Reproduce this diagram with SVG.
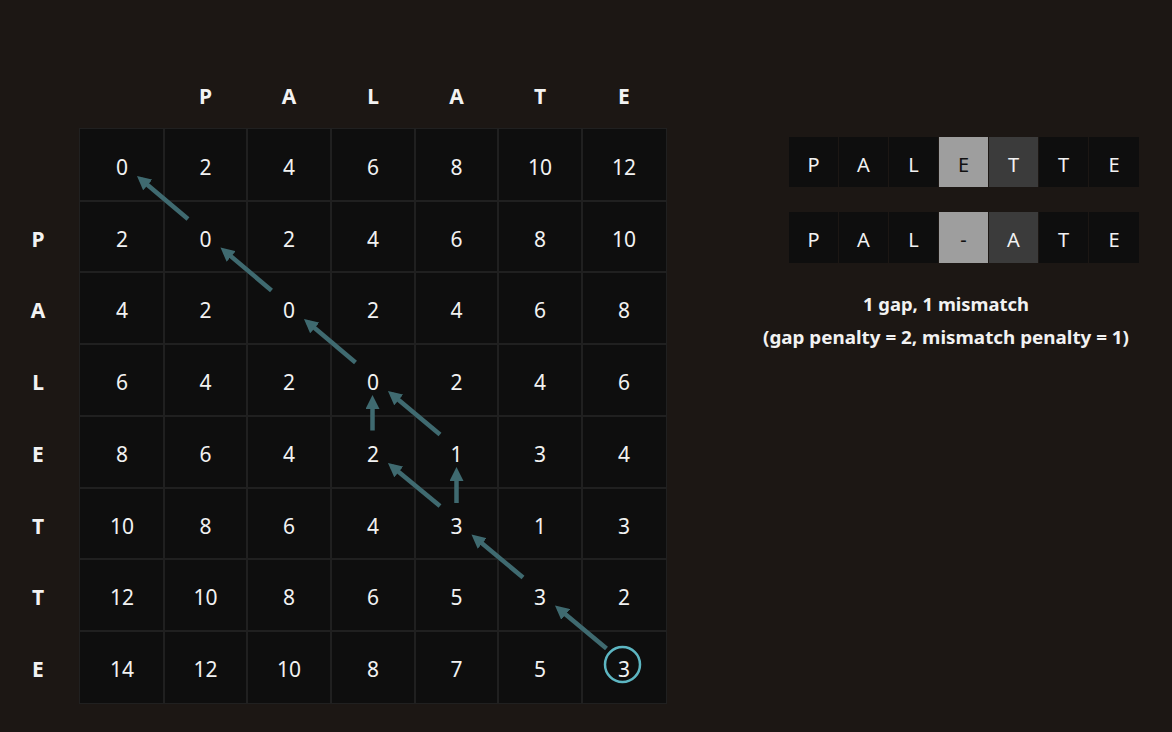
<svg xmlns="http://www.w3.org/2000/svg" width="1172" height="732" viewBox="0 0 1172 732">
<defs>
<style>
.bg{fill:#1c1714}
.grid{fill:#202020}
.cell{fill:#0e0e0e}
.num{font-family:"Noto Sans","Open Sans",sans-serif;font-size:21px;fill:#f2f2f2;text-anchor:middle}
.hdr{font-family:"Noto Sans","Open Sans",sans-serif;font-size:21px;font-weight:bold;fill:#f2f2f2;text-anchor:middle}
.al{font-family:"Noto Sans","Open Sans",sans-serif;font-size:20px;fill:#f2f2f2;text-anchor:middle}
.dk{fill:#111}
.note{font-family:"Noto Sans","Open Sans",sans-serif;font-size:18px;font-weight:bold;fill:#f2f2f2;text-anchor:middle}
.arr{stroke:#3f6a70;stroke-width:4.5;fill:none;marker-end:url(#ah)}
</style>
<marker id="ah" markerUnits="userSpaceOnUse" markerWidth="14" markerHeight="14" viewBox="0 0 14 14" refX="9" refY="7" orient="auto">
<path d="M0,0 L14,7 L0,14 z" fill="#3f6a70"/>
</marker>
</defs>
<rect class="bg" x="0" y="0" width="1172" height="732"/>

<g id="headers">
<text class="hdr" x="205.5" y="104">P</text>
<text class="hdr" x="289" y="104">A</text>
<text class="hdr" x="373" y="104">L</text>
<text class="hdr" x="456.5" y="104">A</text>
<text class="hdr" x="540" y="104">T</text>
<text class="hdr" x="624" y="104">E</text>
<text class="hdr" x="38" y="246.5">P</text>
<text class="hdr" x="38" y="318">A</text>
<text class="hdr" x="38" y="390">L</text>
<text class="hdr" x="38" y="462">E</text>
<text class="hdr" x="38" y="533.5">T</text>
<text class="hdr" x="38" y="605">T</text>
<text class="hdr" x="38" y="677">E</text>
</g>

<g id="matrix">
<rect class="grid" x="79" y="128" width="588" height="576"/>
<g id="cells">
<rect class="cell" x="80" y="129" width="83" height="71"/><rect class="cell" x="165" y="129" width="81" height="71"/><rect class="cell" x="248" y="129" width="82" height="71"/><rect class="cell" x="332" y="129" width="82" height="71"/><rect class="cell" x="416" y="129" width="81" height="71"/><rect class="cell" x="499" y="129" width="82" height="71"/><rect class="cell" x="583" y="129" width="83" height="71"/>
<rect class="cell" x="80" y="202" width="83" height="69"/><rect class="cell" x="165" y="202" width="81" height="69"/><rect class="cell" x="248" y="202" width="82" height="69"/><rect class="cell" x="332" y="202" width="82" height="69"/><rect class="cell" x="416" y="202" width="81" height="69"/><rect class="cell" x="499" y="202" width="82" height="69"/><rect class="cell" x="583" y="202" width="83" height="69"/>
<rect class="cell" x="80" y="273" width="83" height="70"/><rect class="cell" x="165" y="273" width="81" height="70"/><rect class="cell" x="248" y="273" width="82" height="70"/><rect class="cell" x="332" y="273" width="82" height="70"/><rect class="cell" x="416" y="273" width="81" height="70"/><rect class="cell" x="499" y="273" width="82" height="70"/><rect class="cell" x="583" y="273" width="83" height="70"/>
<rect class="cell" x="80" y="345" width="83" height="70"/><rect class="cell" x="165" y="345" width="81" height="70"/><rect class="cell" x="248" y="345" width="82" height="70"/><rect class="cell" x="332" y="345" width="82" height="70"/><rect class="cell" x="416" y="345" width="81" height="70"/><rect class="cell" x="499" y="345" width="82" height="70"/><rect class="cell" x="583" y="345" width="83" height="70"/>
<rect class="cell" x="80" y="417" width="83" height="70"/><rect class="cell" x="165" y="417" width="81" height="70"/><rect class="cell" x="248" y="417" width="82" height="70"/><rect class="cell" x="332" y="417" width="82" height="70"/><rect class="cell" x="416" y="417" width="81" height="70"/><rect class="cell" x="499" y="417" width="82" height="70"/><rect class="cell" x="583" y="417" width="83" height="70"/>
<rect class="cell" x="80" y="489" width="83" height="69"/><rect class="cell" x="165" y="489" width="81" height="69"/><rect class="cell" x="248" y="489" width="82" height="69"/><rect class="cell" x="332" y="489" width="82" height="69"/><rect class="cell" x="416" y="489" width="81" height="69"/><rect class="cell" x="499" y="489" width="82" height="69"/><rect class="cell" x="583" y="489" width="83" height="69"/>
<rect class="cell" x="80" y="560" width="83" height="70"/><rect class="cell" x="165" y="560" width="81" height="70"/><rect class="cell" x="248" y="560" width="82" height="70"/><rect class="cell" x="332" y="560" width="82" height="70"/><rect class="cell" x="416" y="560" width="81" height="70"/><rect class="cell" x="499" y="560" width="82" height="70"/><rect class="cell" x="583" y="560" width="83" height="70"/>
<rect class="cell" x="80" y="632" width="83" height="71"/><rect class="cell" x="165" y="632" width="81" height="71"/><rect class="cell" x="248" y="632" width="82" height="71"/><rect class="cell" x="332" y="632" width="82" height="71"/><rect class="cell" x="416" y="632" width="81" height="71"/><rect class="cell" x="499" y="632" width="82" height="71"/><rect class="cell" x="583" y="632" width="83" height="71"/>
</g>
<g id="values">
<text class="num" x="122" y="175">0</text><text class="num" x="205.5" y="175">2</text><text class="num" x="289" y="175">4</text><text class="num" x="373" y="175">6</text><text class="num" x="456.5" y="175">8</text><text class="num" x="540" y="175">10</text><text class="num" x="624" y="175">12</text>
<text class="num" x="122" y="246.5">2</text><text class="num" x="205.5" y="246.5">0</text><text class="num" x="289" y="246.5">2</text><text class="num" x="373" y="246.5">4</text><text class="num" x="456.5" y="246.5">6</text><text class="num" x="540" y="246.5">8</text><text class="num" x="624" y="246.5">10</text>
<text class="num" x="122" y="318">4</text><text class="num" x="205.5" y="318">2</text><text class="num" x="289" y="318">0</text><text class="num" x="373" y="318">2</text><text class="num" x="456.5" y="318">4</text><text class="num" x="540" y="318">6</text><text class="num" x="624" y="318">8</text>
<text class="num" x="122" y="390">6</text><text class="num" x="205.5" y="390">4</text><text class="num" x="289" y="390">2</text><text class="num" x="373" y="390">0</text><text class="num" x="456.5" y="390">2</text><text class="num" x="540" y="390">4</text><text class="num" x="624" y="390">6</text>
<text class="num" x="122" y="462">8</text><text class="num" x="205.5" y="462">6</text><text class="num" x="289" y="462">4</text><text class="num" x="373" y="462">2</text><text class="num" x="456.5" y="462">1</text><text class="num" x="540" y="462">3</text><text class="num" x="624" y="462">4</text>
<text class="num" x="122" y="533.5">10</text><text class="num" x="205.5" y="533.5">8</text><text class="num" x="289" y="533.5">6</text><text class="num" x="373" y="533.5">4</text><text class="num" x="456.5" y="533.5">3</text><text class="num" x="540" y="533.5">1</text><text class="num" x="624" y="533.5">3</text>
<text class="num" x="122" y="605">12</text><text class="num" x="205.5" y="605">10</text><text class="num" x="289" y="605">8</text><text class="num" x="373" y="605">6</text><text class="num" x="456.5" y="605">5</text><text class="num" x="540" y="605">3</text><text class="num" x="624" y="605">2</text>
<text class="num" x="122" y="677">14</text><text class="num" x="205.5" y="677">12</text><text class="num" x="289" y="677">10</text><text class="num" x="373" y="677">8</text><text class="num" x="456.5" y="677">7</text><text class="num" x="540" y="677">5</text><text class="num" x="624" y="677">3</text>
</g>
</g>

<g id="connectors">
<line class="arr" x1="188" y1="219" x2="140.8" y2="179.2"/>
<line class="arr" x1="271.5" y1="290.5" x2="224.3" y2="250.7"/>
<line class="arr" x1="355.5" y1="362.5" x2="307.8" y2="322.2"/>
<line class="arr" x1="440" y1="434.5" x2="391.8" y2="394.2"/>
<line class="arr" x1="440" y1="506" x2="391.8" y2="466.2"/>
<line class="arr" x1="523" y1="577.5" x2="475.3" y2="537.7"/>
<line class="arr" x1="606.5" y1="648.5" x2="558.8" y2="608.7"/>
<line class="arr" x1="456.5" y1="503" x2="456.5" y2="472"/>
<line class="arr" x1="372.5" y1="430.5" x2="372.5" y2="400"/>
</g>

<g id="end-marker">
<circle cx="622.5" cy="664.5" r="17.5" fill="none" stroke="#5db6c2" stroke-width="2.5"/>
</g>

<g id="alignment-top">
<rect class="cell" x="789" y="137" width="49" height="50"/>
<rect class="cell" x="839" y="137" width="49" height="50"/>
<rect class="cell" x="889" y="137" width="49" height="50"/>
<rect x="939" y="137" width="49" height="50" fill="#9e9e9e"/>
<rect x="989" y="137" width="49" height="50" fill="#3b3b3b"/>
<rect class="cell" x="1039" y="137" width="49" height="50"/>
<rect class="cell" x="1089" y="137" width="50" height="50"/>
<text class="al" x="813.5" y="172">P</text>
<text class="al" x="863.5" y="172">A</text>
<text class="al" x="913.5" y="172">L</text>
<text class="al dk" x="963.5" y="172">E</text>
<text class="al" x="1013.5" y="172">T</text>
<text class="al" x="1063.5" y="172">T</text>
<text class="al" x="1114" y="172">E</text>
</g>

<g id="alignment-bottom">
<rect class="cell" x="789" y="212" width="49" height="51"/>
<rect class="cell" x="839" y="212" width="49" height="51"/>
<rect class="cell" x="889" y="212" width="49" height="51"/>
<rect x="939" y="212" width="49" height="51" fill="#9e9e9e"/>
<rect x="989" y="212" width="49" height="51" fill="#3b3b3b"/>
<rect class="cell" x="1039" y="212" width="49" height="51"/>
<rect class="cell" x="1089" y="212" width="50" height="51"/>
<text class="al" x="813.5" y="247">P</text>
<text class="al" x="863.5" y="247">A</text>
<text class="al" x="913.5" y="247">L</text>
<text class="al dk" x="963.5" y="247">-</text>
<text class="al" x="1013.5" y="247">A</text>
<text class="al" x="1063.5" y="247">T</text>
<text class="al" x="1114" y="247">E</text>
</g>

<g id="summary">
<text class="note" x="946" y="311" textLength="166" lengthAdjust="spacingAndGlyphs">1 gap, 1 mismatch</text>
<text class="note" x="946" y="344" textLength="366" lengthAdjust="spacingAndGlyphs">(gap penalty = 2, mismatch penalty = 1)</text>
</g>
</svg>
